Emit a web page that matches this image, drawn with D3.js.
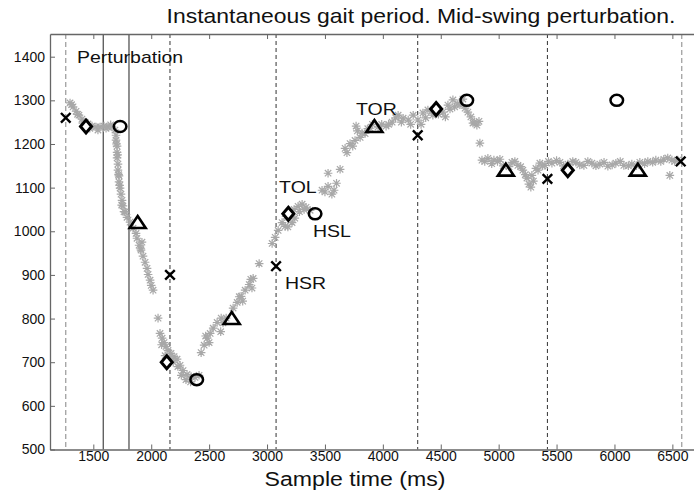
<!DOCTYPE html>
<html>
<head>
<meta charset="UTF-8">
<title>Instantaneous gait period</title>
<style>
  body { margin: 0; background: #fff; }
  text { font-family: "Liberation Sans", Arial, sans-serif; fill: #111; }
  .tick text { font-size: 14px; }
</style>
<script src="https://d3js.org/d3.v7.min.js"></script>
</head>
<body>
<div id="chart"></div>
<script>
// gait period samples (ms, gait period)
const starT = [1299,1325,1351,1376,1402,1428,1454,1489,1523,1558,1592,1627,1661,1687,1696,1696,1705,1705,1705,1713,1713,1722,1722,1731,1739,1748,1756,1774,1791,1817,1843,1869,1877,1895,1912,1929,1947,1964,1973,1990,2000,2016,
  2059,2076,2094,2111,2128,2145,2171,2197,2223,2249,2275,2309,2344,2378,2413,
  2431,2457,2483,2509,2535,2569,2604,2647,2707,2742,2776,2811,2846,2880,2932,3044,3070,3096,3130,3156,3165,3199,3216,3234,3268,3303,3337,3372,
  3475,3527,3579,3527,3631,3674,3717,3760,3804,3847,3769,3890,3959,4028,4080,4132,4175,4219,4262,
  4303,4346,4389,4432,4518,4562,4605,4648,4691,4734,4760,4778,4812,4830,4838,4856,4907,4959,5011,5115,5166,5209,5244,5261,5278,5287,5322,5356,
  5399,5460,5529,5598,5667,5736,5805,5874,5943,6012,6081,6150,6219,6288,6357,6426,6496,6547,6478,
  1312,1364,1410,1470,1540,1610,1650,1700,1710,1718,1727,1745,1765,1910,1920,
  2090,2120,2160,2190,2230,2260,2300,2340,2470,2500,2600,2620,2760,2790,2860,2870,
  3180,3240,3280,3320,3500,3560,3600,3690,3740,3780,3820,3870,3910,3990,4050,4110,4160,4240,
  4330,4370,4420,4480,4540,4580,4620,4665,4710,4790,
  4880,4940,4990,5040,5090,5140,5190,5230,5300,5340,5380,
  5430,5500,5560,5640,5700,5770,5840,5910,5980,6050,6120,6190,6260,6330,6400,6460,6520];
const starV = [1294,1285,1275,1266,1257,1250,1246,1241,1239,1239,1241,1239,1239,1232,1220,1209,1195,1181,1168,1154,1140,1127,1113,1099,1085,1071,1058,1044,1032,1021,1007,995,984,968,957,943,929,915,901,888,876,865,
  801,766,755,745,736,727,720,713,707,693,681,672,667,665,670,
  722,739,755,766,778,791,801,801,824,837,851,865,878,892,926,972,986,1002,1020,1011,1034,1043,1020,1050,1057,1062,1055,1048,
  1094,1103,1094,1133,1142,1190,1201,1208,1215,1224,1241,1236,1239,1241,1250,1266,1259,1255,1266,
  1255,1271,1278,1266,1273,1289,1301,1292,1303,1273,1262,1248,1243,1252,1202,1163,1167,1163,1165,1158,1151,1140,1122,1108,1101,1128,1144,1156,
  1151,1156,1158,1154,1158,1151,1156,1154,1149,1156,1151,1154,1158,1160,1163,1165,1163,1163,1128,
  1290,1268,1248,1236,1232,1236,1244,1200,1175,1130,1105,1060,1045,960,975,
  740,715,712,700,690,670,660,655,760,745,770,790,850,840,890,870,
  1010,1030,1045,1050,1090,1085,1110,1180,1195,1230,1225,1235,1245,1245,1245,1260,1250,1245,
  1245,1260,1275,1268,1262,1280,1285,1290,1282,1250,
  1160,1155,1160,1150,1148,1160,1148,1130,1115,1140,1150,
  1160,1162,1150,1160,1152,1160,1150,1158,1152,1160,1150,1150,1155,1158,1160,1168,1160];

// gait events
const crossT = [1262,2162,3078,4301,5421,6572];
const crossV = [1260,900,920,1220,1120,1160];
const diamondT = [1437,2134,3184,4460,5597];
const diamondV = [1240,700,1040,1280,1140];
const circleT = [1731,2393,3415,4725,6020];
const circleV = [1240,660,1040,1300,1300];
const triT = [1883,2695,3927,5062,6202];
const triV = [1020,800,1240,1140,1140];

const stepLines = [2162,3078,4301,5421];
const edgeLines = [1262,6581];
const perturbLines = [1586,1808];

const labels = ["Perturbation","TOL","HSL","HSR","TOR"];
const labelT = [1359,3104,3397,3155,3768];
const labelV = [1386,1087,987,867,1266];

const xTicks = [1500,2000,2500,3000,3500,4000,4500,5000,5500,6000,6500];
const yTicks = [500,600,700,800,900,1000,1100,1200,1300,1400];

const W = 694, H = 491;
const mLeft = 50, mRight = 696, mTop = 34, mBottom = 449.5;

const svg = d3.select("#chart").append("svg")
  .attr("width", W).attr("height", H);

const x = d3.scaleLinear().domain([1126, 6704]).range([mLeft, mRight]);
const y = d3.scaleLinear().domain([500, 1452]).range([mBottom, mTop]);

// vertical marker lines
const vl = svg.append("g");
vl.selectAll(".edge").data(edgeLines).enter().append("line")
  .attr("x1", d => x(d)).attr("x2", d => x(d))
  .attr("y1", mTop).attr("y2", mBottom)
  .attr("stroke", "#999").attr("stroke-width", 1.2).attr("stroke-dasharray", "5,3");
vl.selectAll(".step").data(stepLines).enter().append("line")
  .attr("x1", d => x(d)).attr("x2", d => x(d))
  .attr("y1", mTop).attr("y2", mBottom)
  .attr("stroke", "#333").attr("stroke-width", 1).attr("stroke-dasharray", "4,3");
vl.selectAll(".pert").data(perturbLines).enter().append("line")
  .attr("x1", d => x(d)).attr("x2", d => x(d))
  .attr("y1", mTop).attr("y2", mBottom)
  .attr("stroke", "#555").attr("stroke-width", 1.3);

// axes
const fmt = d3.format("d");
const xAxis = svg.append("g").attr("transform", "translate(0," + mBottom + ")")
  .call(d3.axisBottom(x).tickValues(xTicks).tickFormat(fmt).tickSize(-5).tickPadding(2).tickSizeOuter(0));
const xTop = svg.append("g").attr("transform", "translate(0," + mTop + ")")
  .call(d3.axisTop(x).tickValues(xTicks).tickSize(-5).tickFormat("").tickSizeOuter(0));
const yAxis = svg.append("g").attr("transform", "translate(" + mLeft + ",0)")
  .call(d3.axisLeft(y).tickValues(yTicks).tickFormat(fmt).tickSize(-5).tickPadding(5).tickSizeOuter(0));
[xAxis, xTop, yAxis].forEach(g => {
  g.select(".domain").attr("stroke", "#666").attr("stroke-width", 1.3);
  g.selectAll(".tick line").attr("stroke", "#666");
  g.selectAll(".tick text").attr("fill", "#111");
});

// gray star samples
const starPath = "M-4.3,0H4.3M0,-4.3V4.3M-3.2,-3.2L3.2,3.2M-3.2,3.2L3.2,-3.2";
svg.append("g").selectAll("path").data(starT).enter().append("path")
  .attr("d", starPath)
  .attr("transform", (d, i) => "translate(" + x(d) + "," + y(starV[i]) + ")")
  .attr("stroke", "#a8a8a8").attr("stroke-width", 1.2).attr("fill", "none");

// event markers
const mk = svg.append("g").attr("fill", "none").attr("stroke", "#000");
mk.selectAll(".cross").data(crossT).enter().append("path")
  .attr("d", "M-4.8,-4.8L4.8,4.8M-4.8,4.8L4.8,-4.8")
  .attr("transform", (d, i) => "translate(" + x(d) + "," + y(crossV[i]) + ")")
  .attr("stroke-width", 2.4);
mk.selectAll(".diamond").data(diamondT).enter().append("path")
  .attr("d", "M0,-6.5L5.5,0L0,6.5L-5.5,0Z")
  .attr("transform", (d, i) => "translate(" + x(d) + "," + y(diamondV[i]) + ")")
  .attr("stroke-width", 3).attr("fill", "#fff");
mk.selectAll(".circle").data(circleT).enter().append("ellipse")
  .attr("cx", d => x(d)).attr("cy", (d, i) => y(circleV[i]))
  .attr("rx", 6.3).attr("ry", 5.5)
  .attr("stroke-width", 2.5).attr("fill", "none");
mk.selectAll(".tri").data(triT).enter().append("path")
  .attr("d", "M0,-6.5L8,5.5L-8,5.5Z")
  .attr("transform", (d, i) => "translate(" + x(d) + "," + y(triV[i]) + ")")
  .attr("stroke-width", 2.6).attr("stroke-linejoin", "miter").attr("fill", "none");

// annotations (the original type is a wide face, so stretch horizontally)
svg.append("g").selectAll("text").data(labels).enter().append("text")
  .attr("transform", (d, i) => "translate(" + x(labelT[i]) + "," + y(labelV[i]) + ") scale(1.22,1)")
  .attr("font-size", 16)
  .text(d => d);

// titles
svg.append("text").attr("transform", "translate(421,23) scale(1.12,1)").attr("text-anchor", "middle")
  .attr("font-size", 20.5)
  .text("Instantaneous gait period. Mid-swing perturbation.");
svg.append("text").attr("transform", "translate(355,486) scale(1.1,1)").attr("text-anchor", "middle")
  .attr("font-size", 21)
  .text("Sample time (ms)");
</script>
</body>
</html>
